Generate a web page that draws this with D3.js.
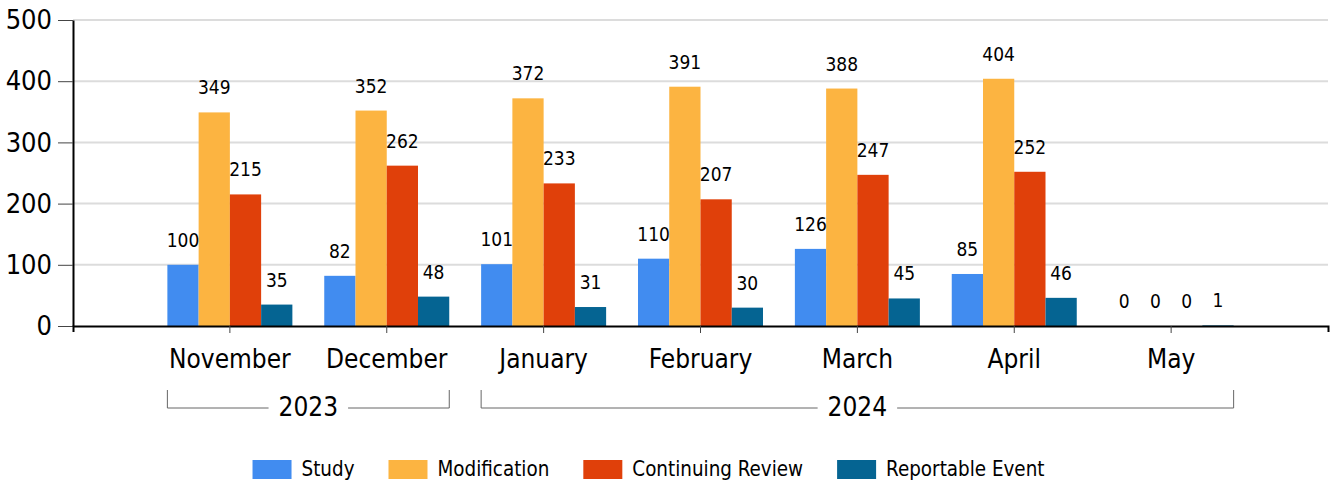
<!DOCTYPE html>
<html>
<head>
<meta charset="utf-8">
<script src="https://cdn.jsdelivr.net/npm/d3@7"></script>
<style>
  body { margin: 0; background: #fff; }
  svg text { font-family: "DejaVu Sans Condensed", "DejaVu Sans", sans-serif; font-stretch: condensed; fill: #000; }
</style>
</head>
<body>
<svg id="chart" width="1333" height="484"></svg>
<script>
// data
const months = ["November", "December", "January", "February", "March", "April", "May"];
const seriesNames = ["Study", "Modification", "Continuing Review", "Reportable Event"];
const study = [100, 82, 101, 110, 126, 85, 0];
const modification = [349, 352, 372, 391, 388, 404, 0];
const continuingReview = [215, 262, 233, 207, 247, 252, 0];
const reportableEvent = [35, 48, 31, 30, 45, 46, 1];
const years = ["2023", "2024"];
const yearMonths = [["November", "December"], ["January", "February", "March", "April", "May"]];
const yTicks = [0, 100, 200, 300, 400, 500];
const colors = ["#418CF0", "#FCB441", "#E0400A", "#056492"];

const seriesValues = [study, modification, continuingReview, reportableEvent];
const rows = months.map((m, i) => ({
    month: m,
    values: seriesNames.map((s, j) => ({ key: s, value: seriesValues[j][i] }))
}));

const svg = d3.select("#chart");
const plotLeft = 73, plotRight = 1328, plotTop = 20, plotBottom = 326;

const x0 = d3.scaleBand()
    .domain(months)
    .range([plotLeft, plotRight])
    .paddingInner(0)
    .paddingOuter(0.5);

const groupWidth = 125;
const x1 = d3.scaleBand()
    .domain(seriesNames)
    .range([0, groupWidth]);

const y = d3.scaleLinear()
    .domain([0, 500])
    .range([plotBottom, plotTop]);

const color = d3.scaleOrdinal().domain(seriesNames).range(colors);

// gridlines
svg.append("g")
    .selectAll("line")
    .data(yTicks.filter(d => d > 0))
    .enter().append("line")
    .attr("x1", plotLeft)
    .attr("x2", plotRight)
    .attr("y1", d => y(d))
    .attr("y2", d => y(d))
    .attr("stroke", "#dcdcdc")
    .attr("stroke-width", 2);

// bars
const groups = svg.append("g")
    .selectAll("g")
    .data(rows)
    .enter().append("g")
    .attr("transform", d => `translate(${x0(d.month) + x0.bandwidth() / 2 - groupWidth / 2},0)`);

groups.selectAll("rect")
    .data(d => d.values)
    .enter().append("rect")
    .attr("x", d => x1(d.key))
    .attr("width", x1.bandwidth())
    .attr("y", d => y(d.value))
    .attr("height", d => plotBottom - y(d.value))
    .attr("fill", d => color(d.key));

groups.selectAll("text")
    .data(d => d.values)
    .enter().append("text")
    .attr("x", d => x1(d.key) + x1.bandwidth() / 2)
    .attr("y", d => y(d.value) - 18)
    .attr("text-anchor", "middle")
    .style("font-size", "19px")
    .text(d => d.value);

// y axis
const yAxis = svg.append("g")
    .attr("transform", `translate(${plotLeft},0)`)
    .call(d3.axisLeft(y).tickValues(yTicks).tickSize(15).tickSizeOuter(0).tickPadding(6));
yAxis.select(".domain").attr("stroke", "#000").attr("stroke-width", 2);
yAxis.selectAll(".tick line").attr("stroke", "#444");
yAxis.selectAll(".tick text").style("font-size", "27px");

// x axis
const xAxis = svg.append("g")
    .attr("transform", `translate(0,${plotBottom})`)
    .call(d3.axisBottom(x0).tickSize(7).tickSizeOuter(6));
xAxis.select(".domain").attr("stroke", "#000").attr("stroke-width", 2);
xAxis.selectAll(".tick line").attr("stroke", "#444");
xAxis.selectAll(".tick text")
    .attr("y", 42)
    .attr("dy", null)
    .style("font-size", "26px");

// year brackets
const bracketTop = 390, bracketY = 408;
years.forEach((yr, i) => {
    const ms = yearMonths[i];
    const xStart = x0(ms[0]) + x0.bandwidth() / 2 - groupWidth / 2;
    const xEnd = x0(ms[ms.length - 1]) + x0.bandwidth() / 2 + groupWidth / 2;
    const g = svg.append("g");
    g.append("path")
        .attr("d", `M${xStart},${bracketTop}V${bracketY}H${xEnd}V${bracketTop}`)
        .attr("fill", "none")
        .attr("stroke", "#666")
        .attr("stroke-width", 1);
    const t = g.append("text")
        .attr("x", (xStart + xEnd) / 2)
        .attr("y", 416)
        .attr("text-anchor", "middle")
        .style("font-size", "26px")
        .text(yr);
    const bb = t.node().getBBox();
    g.insert("rect", "text")
        .attr("x", bb.x - 10)
        .attr("width", bb.width + 20)
        .attr("y", bracketY - 3)
        .attr("height", 6)
        .attr("fill", "#fff");
});

// legend
const legend = svg.append("g");
const items = legend.selectAll("g")
    .data(seriesNames)
    .enter().append("g");
items.append("rect")
    .attr("width", 39)
    .attr("height", 19)
    .attr("y", 460)
    .attr("fill", d => color(d));
items.append("text")
    .attr("x", 49)
    .attr("y", 476)
    .style("font-size", "20.4px")
    .text(d => d);
let cx = 0;
const offsets = [];
items.each(function () {
    offsets.push(cx);
    cx += 49 + this.querySelector("text").getComputedTextLength() + 34;
});
const total = cx - 34;
const startX = 648.5 - total / 2;
items.attr("transform", (d, i) => `translate(${startX + offsets[i]},0)`);
</script>
</body>
</html>
